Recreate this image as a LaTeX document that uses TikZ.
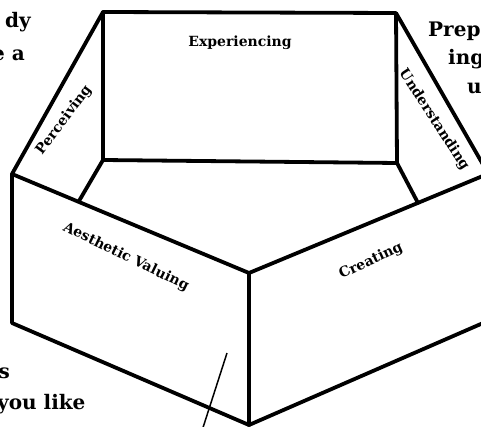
\documentclass[tikz,border=0pt]{standalone}
\usepackage{fontspec}
\setmainfont{DejaVu Serif}
\usepackage{tikz}
\usetikzlibrary{positioning, calc}
\definecolor{cInk}{HTML}{000000}
\tikzset{
  edge/.style={draw=cInk, line width=3.8pt, line join=round, line cap=round},
  leader/.style={draw=cInk, line width=1.5pt},
  facelabel/.style={font=\bfseries\fontsize{14}{16}\selectfont, text=cInk, inner sep=0pt},
  prose/.style={font=\bfseries\fontsize{20}{24}\selectfont, text=cInk, inner sep=0pt},
}
\begin{document}
\begin{tikzpicture}[x=1pt, y=-1pt]
  \useasboundingbox (0,0) rectangle (481,427);
  \clip (0,0) rectangle (481,427);
  % corners of the box
  \coordinate (bTL) at (103,12);
  \coordinate (bTR) at (396,13);
  \coordinate (bBR) at (397,163);
  \coordinate (bBL) at (103,160);
  \coordinate (lTop) at (12,174);
  \coordinate (lBot) at (12,323);
  \coordinate (lIn)  at (79,201);
  \coordinate (cTop) at (249,273);
  \coordinate (cBot) at (249,425);
  \coordinate (rIn)  at (418,203);
  \coordinate (rTop) at (490,173);
  \coordinate (rOut) at (489,175);
  \coordinate (rBot) at (490,320);
  % back panel
  \draw[edge] (bTL) -- (bTR) -- (bBR) -- (bBL) -- cycle;
  % side strips
  \draw[edge] (bTL) -- (lTop);
  \draw[edge] (bBL) -- (lIn);
  \draw[edge] (bTR) -- (rOut);
  \draw[edge] (bBR) -- (rIn);
  % front panels
  \draw[edge] (lTop) -- (cTop) -- (rTop);
  \draw[edge] (lTop) -- (lBot) -- (cBot) -- (rBot);
  \draw[edge] (cTop) -- (cBot);
  % face labels
  \node[facelabel] (exp) at (240,43) {Experiencing};
  \node[facelabel, rotate=53] (perc) at (64,120) {Perceiving};
  \node[facelabel, rotate=-57] (und) at (434,120) {Understanding};
  \node[facelabel, rotate=-26] (aes) at (126,257) {Aesthetic Valuing};
  \node[facelabel, rotate=25] (cre) at (371,261) {Creating};
  % leader line
  \coordinate (lead) at (227,353);
  \coordinate (leadend) at (199,440);
  \draw[leader] (lead) -- (leadend);
  % surrounding text, cut by the frame
  \node[prose, anchor=base east] (t1) at (31,28) {dy};
  \node[prose, anchor=base east] (t2) at (25,61) {e a};
  \node[prose, anchor=base west] (t3) at (428,37) {Prep};
  \node[prose, anchor=base west] (t4) at (448,65) {ing};
  \node[prose, anchor=base west] (t5) at (467,94) {u};
  \node[prose, anchor=base east] (t6) at (10,378) {s};
  \node[prose, anchor=base west] (t7) at (-3,409) {you like};
\end{tikzpicture}
\end{document}
